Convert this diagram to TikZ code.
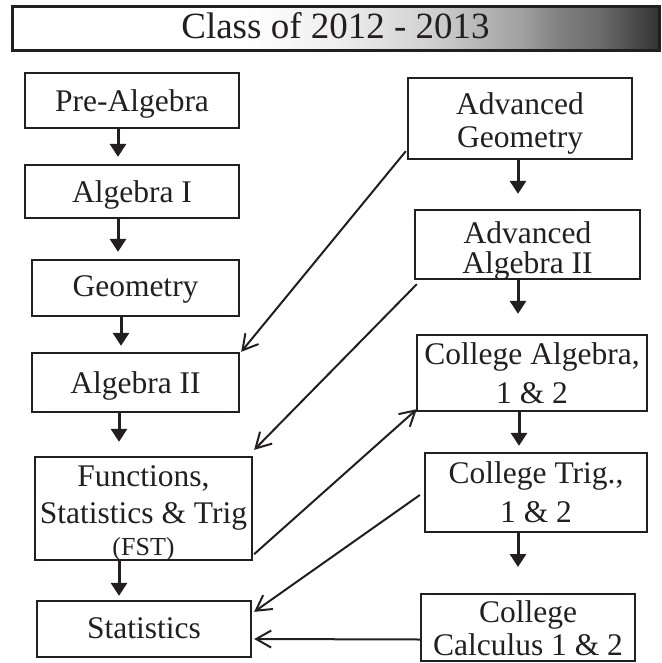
\documentclass[tikz,border=0pt]{standalone}
\usepackage{fontspec}
\setmainfont{Liberation Serif}
\usetikzlibrary{arrows.meta,calc}
\definecolor{ink}{HTML}{231F20}
\pgfdeclarehorizontalshading{titleshade}{100bp}{color(0bp)=(white); color(43bp)=(white); color(49.6bp)=(black!6); color(57.3bp)=(black!18); color(64.3bp)=(black!37); color(67.4bp)=(black!50); color(70.4bp)=(black!58); color(75bp)=(black!80); color(100bp)=(black!80)}
\newcommand{\firstln}[2]{\raisebox{0pt}[#1pt][0pt]{#2}}
\newcommand{\nextln}[1]{\raisebox{0pt}[0pt][0pt]{#1}}
\begin{document}
\begin{tikzpicture}[x=1pt,y=-1pt,
  box/.style={draw=ink, line width=2.3pt, inner sep=0pt, text=ink,
    font=\fontsize{31.5}{33}\selectfont, align=center},
  bl/.style={text height=#1pt, text depth=0pt},
  downarr/.style={draw=ink, line width=3pt, -{Triangle[width=16pt,length=13pt]}},
  link/.style={draw=ink, line width=2pt, -{Straight Barb[length=15pt,width=17pt]}}]
\useasboundingbox (0,0) rectangle (661,663);
% title bar
\node[draw=ink, line width=3pt, shade, shading=titleshade, minimum width=647pt,
  minimum height=44pt, inner sep=0pt, text=ink, font=\fontsize{37}{40}\selectfont,
  text height=20pt, text depth=0pt] (title) at (335.5,29) {Class of 2012 - 2013};
% left column
\node[box, bl=23, minimum width=214pt, minimum height=55pt] (pre) at (132,100.5) {Pre-Algebra};
\node[box, bl=21, minimum width=214pt, minimum height=53pt] (alg1) at (132,191.5) {Algebra I};
\node[box, bl=16, minimum width=207pt, minimum height=56pt] (geo) at (135.5,288) {Geometry};
\node[box, bl=21, minimum width=207pt, minimum height=59pt] (alg2) at (135.5,382.5) {Algebra II};
\node[box, minimum width=217pt, minimum height=103pt] (fst) at (143.5,508.5)
  {\firstln{24}{Functions,}\\[4pt]\nextln{Statistics \& Trig}\\[-1pt]\nextln{\fontsize{26}{28}\selectfont (FST)}};
\node[box, bl=18, minimum width=214pt, minimum height=56pt] (stat) at (144,629) {Statistics};
% right column
\node[box, minimum width=224pt, minimum height=81pt] (advgeo) at (520,118.5)
  {\firstln{26}{Advanced}\\\nextln{Geometry}};
\node[box, minimum width=225pt, minimum height=69pt] (advalg2) at (527.5,244.5)
  {\firstln{28}{Advanced}\\[-3pt]\nextln{Algebra II}};
\node[box, minimum width=230pt, minimum height=76pt] (collalg) at (532,373)
  {\firstln{21}{College Algebra,}\\[6pt]\nextln{1 \& 2}};
\node[box, minimum width=222pt, minimum height=79pt] (colltrig) at (536,492.5)
  {\firstln{20}{College Trig.,}\\[6pt]\nextln{1 \& 2}};
\node[box, minimum width=214pt, minimum height=67pt] (collcalc) at (528,627.5)
  {\firstln{22}{College}\\\nextln{Calculus 1 \& 2}};
% x positions of the vertical arrows
\coordinate (xa) at (118,0);
\coordinate (xb) at (121,0);
\coordinate (xc) at (119,0);
\coordinate (xr) at (518,0);
\coordinate (xs) at (519,0);
\coordinate (trigend) at (518,567);
% vertical arrows
\draw[downarr, shorten >=7pt] (pre.south -| xa) -- (alg1.north -| xa);
\draw[downarr, shorten >=7pt] (alg1.south -| xa) -- (geo.north -| xa);
\draw[downarr, shorten >=6pt] (geo.south -| xb) -- (alg2.north -| xb);
\draw[downarr, shorten >=14pt] (alg2.south -| xc) -- (fst.north -| xc);
\draw[downarr, shorten >=4pt] (fst.south -| xc) -- (stat.north -| xc);
\draw[downarr, shorten >=15pt] (advgeo.south -| xr) -- (advalg2.north -| xr);
\draw[downarr, shorten >=20pt] (advalg2.south -| xr) -- (collalg.north -| xr);
\draw[downarr, shorten >=6pt] (collalg.south -| xs) -- (colltrig.north -| xs);
\draw[downarr] (colltrig.south -| xr) -- (trigend);
% diagonal links
\draw[link] ($(advgeo.south west)+(-1,-9)$) -- ($(alg2.north east)+(1,0)$);
\draw[link] ($(advalg2.south west)+(3,4)$) -- ($(fst.north east)+(1,-6)$);
\draw[link] ($(fst.south east)+(1,-7)$) -- ($(collalg.south west)+(1,-3)$);
\draw[link] ($(colltrig.west)+(-4,2.5)$) -- ($(stat.north east)+(2,12)$);
\draw[link] ($(collcalc.west)+(0,12)$) -- ($(stat.east)+(2,10)$);
\end{tikzpicture}
\end{document}
